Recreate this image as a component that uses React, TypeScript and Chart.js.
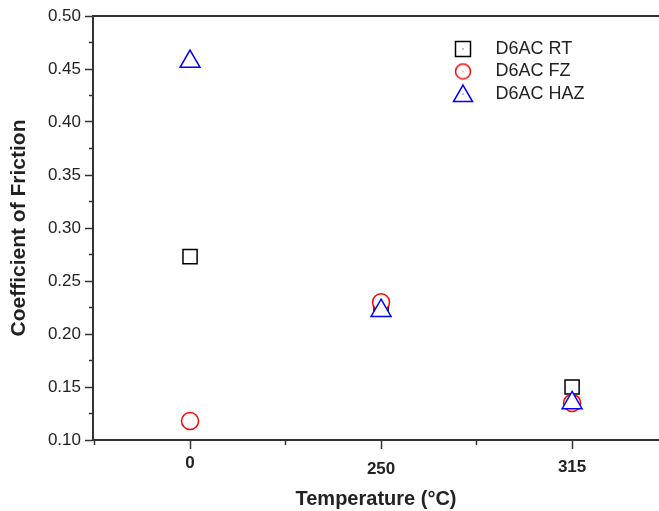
import React, { useEffect, useRef } from 'react';
import { Chart, registerables } from 'chart.js';

Chart.register(...registerables);

// ---- data ----
const categories = ['0', '250', '315'];
const seriesNames = ['D6AC RT', 'D6AC FZ', 'D6AC HAZ'];
const rtValues = [0.273, 0.224, 0.15];
const fzValues = [0.118, 0.23, 0.135];
const hazValues = [0.457, 0.222, 0.135];
const yMin = 0.1;
const yMax = 0.5;
const xMin = -0.508;
const xMax = 2.455;

const FONT = "'Liberation Sans', Arial, Helvetica, sans-serif";
const AXIS = '#333333';
const TEXT = '#222222';

function isMajorY(v: number) {
  return Math.abs(v * 20 - Math.round(v * 20)) < 1e-6;
}
function isHalf(v: number) {
  return Math.abs(v * 2 - Math.round(v * 2)) < 1e-6;
}
function isWhole(v: number) {
  return Math.abs(v - Math.round(v)) < 1e-6;
}

function markerImage(style: string, color: string): HTMLCanvasElement {
  const c = document.createElement('canvas');
  c.width = 26;
  c.height = 26;
  const g = c.getContext('2d')!;
  g.strokeStyle = color;
  g.lineWidth = 1.5;
  g.fillStyle = '#ffffff';
  g.beginPath();
  if (style === 'rect') {
    g.rect(5.5, 5.5, 15, 15);
  } else if (style === 'circle') {
    g.arc(13, 13, 7.5, 0, Math.PI * 2);
  } else {
    const r = 11;
    const s = Math.sin(Math.PI / 3) * r;
    g.moveTo(13, 15 - r);
    g.lineTo(13 + s, 15 + r / 2);
    g.lineTo(13 - s, 15 + r / 2);
    g.closePath();
  }
  g.fill();
  g.stroke();
  g.fillStyle = color;
  g.fillRect(12.5, 12.5, 1, 1);
  return c;
}

const legendPlacer = {
  id: 'legendPlacer',
  afterLayout(chart: any) {
    const lg = chart.legend;
    if (!lg) return;
    const w = lg.width;
    const h = lg.height;
    lg.left = 435;
    lg.top = 35.5;
    lg.right = 435 + w;
    lg.bottom = 35.5 + h;
  },
};

function zeroPadding(s: any) {
  s.paddingLeft = 0;
  s.paddingRight = 0;
  s.paddingTop = 0;
  s.paddingBottom = 0;
}

export default function App() {
  const ref = useRef<HTMLCanvasElement | null>(null);

  useEffect(() => {
    if (!ref.current) return;
    const markers = [
      markerImage('rect', '#000000'),
      markerImage('circle', '#ff0000'),
      markerImage('triangle', '#0000ff'),
    ];
    const toPoints = (vals: number[]) => vals.map((y, i) => ({ x: i, y }));
    const chart = new Chart(ref.current, {
      type: 'scatter',
      data: {
        datasets: [
          {
            label: seriesNames[0],
            data: toPoints(rtValues),
            order: 2,
            pointStyle: 'rect',
            pointRadius: 10,
            pointHoverRadius: 10,
            borderColor: '#000000',
            backgroundColor: '#ffffff',
            pointBorderWidth: 1.5,
          },
          {
            label: seriesNames[1],
            data: toPoints(fzValues),
            order: 1,
            pointStyle: 'circle',
            pointRadius: 8.5,
            pointHoverRadius: 8.5,
            borderColor: '#ff0000',
            backgroundColor: '#ffffff',
            pointBorderWidth: 1.5,
          },
          {
            label: seriesNames[2],
            data: toPoints(hazValues),
            order: 0,
            pointStyle: 'triangle',
            pointRadius: 11.5,
            pointHoverRadius: 11.5,
            borderColor: '#0000ff',
            backgroundColor: '#ffffff',
            pointBorderWidth: 1.5,
          },
        ],
      },
      options: {
        responsive: false,
        animation: false,
        devicePixelRatio: 1,
        layout: { autoPadding: false, padding: { top: 16, left: 0, right: 0, bottom: 0 } },
        plugins: {
          tooltip: { enabled: false },
          legend: {
            display: true,
            position: 'chartArea',
            align: 'start',
            labels: {
              usePointStyle: true,
              pointStyleWidth: 47,
              padding: 4.5,
              color: TEXT,
              textAlign: 'left',
              font: { family: FONT, size: 18, lineHeight: 1 },
              generateLabels: (c: any) => {
                const items = (Chart.defaults.plugins.legend.labels as any).generateLabels(c);
                return items
                  .slice()
                  .sort((a: any, b: any) => a.datasetIndex - b.datasetIndex)
                  .map((it: any) => ({ ...it, pointStyle: markers[it.datasetIndex] }));
              },
            },
          },
        },
        scales: {
          x: {
            type: 'linear',
            position: 'bottom',
            min: xMin,
            max: xMax,
            afterFit: (s: any) => {
              s.height = 71;
              zeroPadding(s);
            },
            afterBuildTicks: (s: any) => {
              const vals: number[] = [];
              for (let v = -0.5; v <= xMax + 1e-9; v += 0.5) vals.push(Math.round(v * 2) / 2);
              s.ticks = vals.map((value) => ({ value }));
            },
            border: { display: true, color: AXIS, width: 2 },
            grid: {
              drawOnChartArea: false,
              drawTicks: true,
              tickLength: 9,
              tickWidth: 1.5,
              tickColor: (ctx: any) => (ctx.tick && isHalf(ctx.tick.value) ? AXIS : 'rgba(0,0,0,0)'),
              tickBorderDash: (ctx: any) => (ctx.tick && isWhole(ctx.tick.value) ? [] : [4, 100]),
            },
            ticks: {
              stepSize: 0.5,
              autoSkip: false,
              maxRotation: 0,
              padding: 2,
              color: TEXT,
              font: (ctx: any) => {
                const v = ctx.tick ? ctx.tick.value : 0;
                let lh = 24;
                if (Math.abs(v - 1) < 1e-6) lh = 36;
                else if (Math.abs(v - 2) < 1e-6) lh = 32;
                return { family: FONT, size: 17, weight: 'bold', lineHeight: lh / 17 };
              },
              callback: (value: any) => {
                const v = Number(value);
                if (!isWhole(v)) return '';
                const idx = Math.round(v);
                return categories[idx] !== undefined ? categories[idx] : '';
              },
            },
            title: {
              display: true,
              text: 'Temperature (°C)',
              color: TEXT,
              font: { family: FONT, size: 20, weight: 'bold', lineHeight: 1.2 },
              padding: { top: 0, bottom: 0 },
            },
          },
          x2: {
            type: 'linear',
            axis: 'x',
            position: 'top',
            min: xMin,
            max: xMax,
            afterFit: (s: any) => {
              s.height = 0;
              zeroPadding(s);
            },
            border: { display: true, color: AXIS, width: 2 },
            grid: { drawOnChartArea: false, drawTicks: false },
            ticks: { display: false },
          },
          y: {
            type: 'linear',
            position: 'left',
            min: yMin,
            max: yMax,
            afterFit: (s: any) => {
              s.width = 93;
              zeroPadding(s);
            },
            border: { display: true, color: AXIS, width: 2 },
            grid: {
              drawOnChartArea: false,
              drawTicks: true,
              tickLength: 8,
              tickWidth: 1.5,
              tickColor: AXIS,
              tickBorderDash: (ctx: any) => (ctx.tick && isMajorY(ctx.tick.value) ? [] : [3, 4]),
              tickBorderDashOffset: (ctx: any) => (ctx.tick && isMajorY(ctx.tick.value) ? 0 : 3),
            },
            ticks: {
              stepSize: 0.025,
              autoSkip: false,
              padding: 4,
              color: TEXT,
              font: { family: FONT, size: 17 },
              callback: (value: any) => {
                const v = Number(value);
                return isMajorY(v) ? v.toFixed(2) : '';
              },
            },
            title: {
              display: true,
              text: 'Coefficient of Friction',
              color: TEXT,
              font: { family: FONT, size: 21, weight: 'bold', lineHeight: 1.2 },
              padding: { top: 7, bottom: 0 },
            },
          },
        },
      } as any,
      plugins: [legendPlacer],
    });
    return () => {
      chart.destroy();
    };
  }, []);

  return (
    <div style={{ position: 'absolute', left: 0, top: 0, width: 659, height: 511, background: '#ffffff' }}>
      <canvas ref={ref} width={659} height={511} style={{ display: 'block' }} />
    </div>
  );
}
